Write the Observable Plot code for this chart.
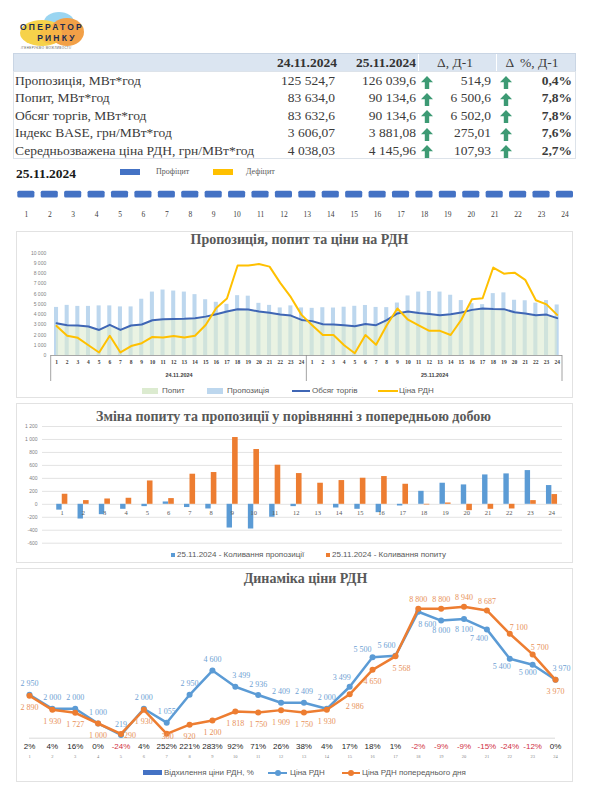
<!DOCTYPE html>
<html lang="uk">
<head>
<meta charset="utf-8">
<script src="https://cdn.jsdelivr.net/npm/d3@7"></script>
<script src="https://cdn.jsdelivr.net/npm/@observablehq/plot@0.6"></script>
<style>
html,body{margin:0;padding:0;background:#fff;}
#root{position:relative;width:592px;height:800px;overflow:hidden;font-family:"Liberation Serif","DejaVu Serif",serif;color:#3b3b3b;}
</style>
</head>
<body>
<div id="root"></div>
<script>
// ---------------- DATA ----------------
const hours = d3.range(1, 25);
const days = ["24.11.2024", "25.11.2024"];
const reportDate = "25.11.2024";

// summary table
const tableHeader = ["24.11.2024", "25.11.2024", "Δ, Д-1", "Δ  %, Д-1"];
const tableLabels = ["Пропозиція, МВт*год", "Попит, МВт*год", "Обсяг торгів, МВт*год", "Індекс BASE, грн/МВт*год", "Середньозважена ціна РДН, грн/МВт*год"];
const tablePrev = [125524.7, 83634.0, 83632.6, 3606.07, 4038.03];
const tableCur = [126039.6, 90134.6, 90134.6, 3881.08, 4145.96];
const tableDelta = [514.9, 6500.6, 6502.0, 275.01, 107.93];
const tablePct = [0.4, 7.8, 7.8, 7.6, 2.7];
const tableDecimals = [1, 1, 1, 2, 2];

// surplus / deficit strip
const balanceStatus = ["Профіцит","Профіцит","Профіцит","Профіцит","Профіцит","Профіцит","Профіцит","Профіцит","Профіцит","Профіцит","Профіцит","Профіцит","Профіцит","Профіцит","Профіцит","Профіцит","Профіцит","Профіцит","Профіцит","Профіцит","Профіцит","Профіцит","Профіцит","Профіцит"];
const balanceKinds = ["Профіцит", "Дефіцит"];

// chart 1: supply (bars), demand (area), trade volume, price
const supplyPrev = [4700,4900,4800,4800,4850,4850,4750,4750,5500,6200,6400,6300,6200,5950,5450,5200,5000,5850,5800,5100,4900,4650,4850,4650];
const supplyCur  = [4610,4670,4640,4720,4810,4890,4700,4680,5130,5820,6200,6260,6200,5890,5370,5070,4970,6050,6120,5400,5350,5120,5370,4940];
const demandPrev = [3160,2960,2930,2830,2500,3000,2500,2930,3030,3450,3550,3580,3600,3650,3800,4040,4300,4530,4500,4300,4170,4000,3900,3480];
const demandCur  = [3360,3060,3040,2960,2850,3070,2960,3450,4110,4310,4150,4060,3930,4030,4210,4460,4600,4540,4530,4220,4100,3930,4000,3650];
const tradePrev  = [3160,2960,2930,2830,2500,3000,2500,2930,3030,3450,3550,3580,3600,3650,3800,4040,4300,4530,4500,4300,4170,4000,3900,3480];
const tradeCur   = [3360,3060,3040,2960,2850,3070,2960,3450,4110,4310,4150,4060,3930,4030,4210,4460,4600,4540,4530,4220,4100,3930,4000,3650];
const pricePrev  = [2890,1930,1727,1000,290,1930,300,920,1200,1818,1750,1909,1750,1930,2986,4650,5568,8800,8800,8940,8687,7100,5700,3970];
const priceCur   = [2950,2000,2000,1000,219,2000,1055,2950,4600,3499,2936,2409,2409,2000,3499,5500,5600,8600,8000,8100,7400,5400,5000,3970];

// chart 2: change vs previous day
const supplyChange = [-90,-227,-160,-77,-36,36,-50,-72,-366,-381,-200,-36,0,-57,-77,-129,-26,200,325,299,453,469,520,289];
const demandChange = [155,57,82,93,360,88,464,490,1030,845,603,474,325,366,402,428,309,-10,20,-98,-77,-72,57,150];

// chart 3: price deviation, %
const priceDeviationPct = [2,4,16,0,-24,4,252,221,283,92,71,26,38,4,17,18,1,-2,-9,-9,-15,-24,-12,0];

// tick values
const ticks1 = d3.range(0, 10001, 1000);
const ticks2 = d3.range(-600, 1201, 200);

// ---------------- HELPERS ----------------
const root = document.getElementById("root");
function el(css, html) {
  const e = document.createElement("div");
  e.style.cssText = "position:absolute;" + css;
  if (html != null) e.innerHTML = html;
  root.appendChild(e);
  return e;
}
function txt(x, yc, text, css = "", anchor = "start") {
  const tx = anchor === "end" ? "-100%" : anchor === "middle" ? "-50%" : "0";
  const e = el(`left:${x}px;top:${yc}px;transform:translate(${tx},-50%);white-space:nowrap;line-height:1;${css}`);
  e.textContent = text;
  return e;
}
function place(svg, left, top) {
  svg.style.position = "absolute";
  svg.style.left = left + "px";
  svg.style.top = top + "px";
  svg.style.background = "transparent";
  svg.style.overflow = "visible";
  svg.style.maxWidth = "none";
  root.appendChild(svg);
}
const fmtInt = d => d3.format(",")(d).replace(/,/g, " ").replace("−", "-");
const uk = d3.formatLocale({decimal: ",", thousands: "\u00a0", grouping: [3], currency: ["", ""], minus: "-"});
const arrowSvg = `<svg width="12" height="13" viewBox="0 0 12 13"><path d="M6 0 L12 6.2 L8.2 6.2 L8.2 13 L3.8 13 L3.8 6.2 L0 6.2 Z" fill="#3d9a74"/></svg>`;

const C = {
  supply: "#bdd7ee", demand: "#dcebd0", trade: "#3f66b5", price: "#ffc000",
  blue: "#5b9bd5", orange: "#ed7d31", grid: "#e3e3e3", title: "#595959",
  surplus: "#4472c4", deficit: "#ffc000"
};
const sans = "Liberation Sans, Arial, sans-serif";
const serif = "Liberation Serif, Times New Roman, serif";

// ---------------- LOGO ----------------
el("left:44px;top:12px;width:30px;height:20px;border-radius:50%;background:#8fd0ef;opacity:0.9");
el("left:20px;top:20px;width:44px;height:26px;border-radius:50%;background:#f6d24a");
el("left:50px;top:18px;width:34px;height:28px;border-radius:50%;background:#f2a047");
el("left:40px;top:24px;width:22px;height:20px;border-radius:50%;background:#f7b845;opacity:0.8");
txt(52, 27, "ОПЕРАТОР", `font-family:${sans};font-weight:bold;font-size:8.5px;letter-spacing:2.2px;color:#1d2b4f`, "middle");
txt(57, 38, "РИНКУ", `font-family:${sans};font-weight:bold;font-size:8.5px;letter-spacing:2.2px;color:#1d2b4f`, "middle");
txt(21, 48, "/ГЕНЕРУЄМО МОЖЛИВОСТІ/", `font-family:${sans};font-size:3px;letter-spacing:0.4px;color:#555`);

// ---------------- TABLE ----------------
el("left:13px;top:53px;width:563px;height:19px;background:#dbe5f1;border:1px solid #c9d5e4;box-sizing:border-box");
el("left:418px;top:54px;width:1px;height:17px;background:#fff");
el("left:496px;top:54px;width:1px;height:17px;background:#fff");
el("left:13px;top:71px;width:563px;height:88px;border:1px solid #dde3ea;box-sizing:border-box");
const tfs = "font-size:13.5px;color:#3b3b3b;";
txt(337, 63, tableHeader[0], tfs + "font-weight:bold;color:#333", "end");
txt(416, 63, tableHeader[1], tfs + "font-weight:bold;color:#333", "end");
txt(455, 63, tableHeader[2], tfs, "middle");
txt(532, 63, tableHeader[3], tfs + "white-space:pre", "middle");
const rowY = [81, 98.3, 115.5, 133, 150.5];
tableLabels.forEach((lab, i) => {
  const f = uk.format(`,.${tableDecimals[i]}f`);
  txt(15, rowY[i], lab, tfs);
  txt(335, rowY[i], f(tablePrev[i]), tfs, "end");
  txt(416, rowY[i], f(tableCur[i]), tfs, "end");
  txt(491, rowY[i], f(tableDelta[i]), tfs, "end");
  txt(572, rowY[i], uk.format(",.1f")(tablePct[i]) + "%", tfs + "font-weight:bold", "end");
  el(`left:${421}px;top:${rowY[i] - 6.5}px;width:12px;height:13px`, tableDelta[i] >= 0 ? arrowSvg : "");
  el(`left:${500}px;top:${rowY[i] - 6.5}px;width:12px;height:13px`, tablePct[i] >= 0 ? arrowSvg : "");
});

// ---------------- STRIP ----------------
txt(16, 174, reportDate, `font-size:13.5px;font-weight:bold;color:#1a1a1a`);
el(`left:120px;top:169px;width:20px;height:6px;background:${C.surplus}`);
txt(156, 172, balanceKinds[0], `font-size:8px;color:#595959`);
el(`left:213px;top:169px;width:20px;height:6px;background:${C.deficit}`);
txt(246, 172, balanceKinds[1], `font-size:8px;color:#595959`);

const strip = hours.map((h, i) => ({hour: h, status: balanceStatus[i]}));
const pStrip = Plot.plot({
  width: 560, height: 40, marginLeft: 0, marginRight: 0, marginTop: 5.7, marginBottom: 27.5,
  x: {domain: hours, range: [2.3, 558], paddingInner: 0.27, paddingOuter: 0, round: false, axis: null},
  color: {domain: balanceKinds, range: [C.surplus, C.deficit]},
  marks: [
    Plot.cell(strip, {x: "hour", fill: "status", rx: 1.5}),
    Plot.text(strip, {x: "hour", text: "hour", frameAnchor: "bottom", dy: 19.2, fontSize: 7.5, fontFamily: serif, fill: "#404040"})
  ]
});
place(pStrip, 15, 185);

// ---------------- CHART 1 ----------------
el("left:16px;top:231px;width:557px;height:167px;border:1px solid #e2e2e2;box-sizing:border-box");
txt(299.5, 240, "Пропозиція, попит та ціни на РДН", `font-size:14px;font-weight:bold;color:${C.title}`, "middle");

const c1 = [];
days.forEach((d, di) => hours.forEach((h, hi) => c1.push({
  key: `${di}-${h}`, day: d, hour: h,
  supply: [supplyPrev, supplyCur][di][hi],
  demand: [demandPrev, demandCur][di][hi],
  trade: [tradePrev, tradeCur][di][hi],
  price: [pricePrev, priceCur][di][hi]
})));
const W1 = 558, ML1 = 35.7, MR1 = 11, H1 = 168, MB1 = 43;
const step1 = (W1 - ML1 - MR1) / c1.length;
const p1 = Plot.plot({
  width: W1, height: H1, marginLeft: ML1, marginRight: MR1, marginTop: 22.7, marginBottom: MB1,
  style: {fontFamily: sans, fontSize: "5px", color: "#7f7f7f", background: "transparent"},
  x: {domain: c1.map(d => d.key), padding: 0, round: false, axis: null},
  y: {domain: [0, 10000], ticks: ticks1, tickFormat: fmtInt, tickSize: 0, tickPadding: 5, label: null},
  marks: [
    Plot.barY(c1, {x: "key", y: "supply", fill: C.supply, insetLeft: 3.3, insetRight: 3.3}),
    Plot.areaY(c1, {x: "key", y: "demand", fill: C.demand, fillOpacity: 0.6}),
    Plot.ruleY([0], {stroke: "#a6a6a6"}),
    Plot.lineY(c1, {x: "key", y: "trade", stroke: C.trade, strokeWidth: 2}),
    Plot.lineY(c1, {x: "key", y: "price", stroke: C.price, strokeWidth: 2}),
    Plot.text(c1, {x: "key", text: "hour", frameAnchor: "bottom", dy: 8, fontSize: 5.5, fontFamily: serif, fontWeight: "bold", fill: "#404040"}),
    Plot.text(c1.filter(d => d.hour === 12), {x: "key", text: "day", frameAnchor: "bottom", dy: 21, dx: step1 / 2, fontSize: 5.5, fontFamily: sans, fontWeight: "bold", fill: "#404040"})
  ]
});
const s1 = d3.select(p1);
[0, 24, 48].forEach(k => s1.append("line")
  .attr("x1", ML1 + k * step1).attr("x2", ML1 + k * step1)
  .attr("y1", H1 - MB1).attr("y2", H1 - MB1 + 26)
  .attr("stroke", "#8c8c8c").attr("stroke-width", 0.8));
place(p1, 15, 230);

// chart 1 legend
const lg = `font-family:${sans};font-size:8px;color:#595959`;
el(`left:142px;top:388px;width:16px;height:6px;background:${C.demand}`);
txt(162, 391, "Попит", lg);
el(`left:207px;top:388px;width:16px;height:6px;background:${C.supply}`);
txt(227, 391, "Пропозиція", lg);
el(`left:292px;top:390px;width:18px;height:2px;background:${C.trade}`);
txt(312, 391, "Обсяг торгів", lg);
el(`left:378px;top:390px;width:20px;height:2px;background:${C.price}`);
txt(399, 391, "Ціна РДН", lg);

// ---------------- CHART 2 ----------------
el("left:16px;top:403px;width:557px;height:160px;border:1px solid #e2e2e2;box-sizing:border-box");
txt(293.5, 417, "Зміна попиту та пропозиції у порівнянні з попередньою добою", `font-size:14px;font-weight:bold;color:${C.title}`, "middle");

const c2 = hours.map((h, i) => ({hour: h, supplyChange: supplyChange[i], demandChange: demandChange[i]}));
const XR2 = [36, 547];
const bw2 = (XR2[1] - XR2[0]) / hours.length;
const p2 = Plot.plot({
  width: 558, height: 159, marginLeft: 27, marginRight: 11, marginTop: 23, marginBottom: 19.3,
  style: {fontFamily: sans, fontSize: "5px", color: "#7f7f7f", background: "transparent"},
  x: {domain: hours, range: XR2, padding: 0, round: false, axis: null},
  y: {domain: [-600, 1200], ticks: ticks2, tickFormat: fmtInt, tickSize: 0, tickPadding: 5, label: null},
  marks: [
    Plot.ruleY(ticks2, {stroke: C.grid}),
    Plot.barY(c2, {x: "hour", y: "supplyChange", fill: C.blue, insetLeft: bw2 / 2 - 5.4, insetRight: bw2 / 2}),
    Plot.barY(c2, {x: "hour", y: "demandChange", fill: C.orange, insetLeft: bw2 / 2 + 0.1, insetRight: bw2 / 2 - 5.7}),
    Plot.text(c2, {x: "hour", y: () => 0, text: "hour", dy: 9, fontSize: 6.5, fontFamily: serif, fill: "#595959"})
  ]
});
place(p2, 15, 403);

el(`left:171px;top:553px;width:4px;height:4px;background:${C.blue}`);
txt(177, 555, "25.11.2024 - Коливання пропозиції", lg);
el(`left:326px;top:553px;width:4px;height:4px;background:${C.orange}`);
txt(332, 555, "25.11.2024 - Коливання попиту", lg);

// ---------------- CHART 3 ----------------
el("left:16px;top:568px;width:557px;height:214px;border:1px solid #e2e2e2;box-sizing:border-box");
txt(305.5, 579, "Динаміка ціни РДН", `font-size:14px;font-weight:bold;color:${C.title}`, "middle");

const c3 = hours.map((h, i) => ({hour: h, cur: priceCur[i], prev: pricePrev[i], pct: priceDeviationPct[i]}));
// label placement (style): [dx, dy] per hour
const curLabelPos = h => h === 15 ? [-8, -9] : h === 16 ? [-10, -8] : h === 17 ? [-9, -10] : h === 18 ? [9, 13]
  : (h === 19 || h === 20) ? [0, 10] : h === 21 ? [-8, 9] : h === 22 ? [-8, 8] : h === 23 ? [-5, 8] : h === 24 ? [6, -11]
  : h === 10 ? [6, -11] : [0, -11];
const prevLabelPos = h => h === 5 ? [9, 2] : h === 7 ? [1, 3] : h === 15 ? [5, 12] : h === 17 ? [6, 12]
  : (h >= 18 && h <= 21) ? [0, -9] : h === 22 ? [9, -6] : h === 23 ? [7, -7] : [0, 12];

const labelMarks = [];
c3.forEach(d => {
  const [dx1, dy1] = curLabelPos(d.hour);
  labelMarks.push(Plot.text([d], {x: "hour", y: "cur", text: e => fmtInt(e.cur), dx: dx1, dy: dy1, fontSize: 8, fontFamily: serif, fill: "#6f9fd4"}));
  const [dx2, dy2] = prevLabelPos(d.hour);
  labelMarks.push(Plot.text([d], {x: "hour", y: "prev", text: e => fmtInt(e.prev), dx: dx2, dy: dy2, fontSize: 8, fontFamily: serif, fill: "#e8925a"}));
});

const p3 = Plot.plot({
  width: 558, height: 221, marginLeft: 14, marginRight: 18, marginTop: 41.3, marginBottom: 50.3,
  style: {fontFamily: sans, fontSize: "8px", background: "transparent"},
  x: {domain: [1, 24], axis: null},
  y: {domain: [0, 8800], axis: null},
  marks: [
    Plot.ruleY([0], {stroke: "#d9d9d9"}),
    Plot.lineY(c3, {x: "hour", y: "cur", stroke: C.blue, strokeWidth: 2.5}),
    Plot.dot(c3, {x: "hour", y: "cur", r: 3, fill: C.blue}),
    Plot.lineY(c3, {x: "hour", y: "prev", stroke: C.orange, strokeWidth: 2.5}),
    Plot.dot(c3, {x: "hour", y: "prev", r: 3, fill: C.orange}),
    ...labelMarks,
    Plot.text(c3.filter(d => d.pct >= 0), {x: "hour", text: d => d.pct + "%", frameAnchor: "bottom", dy: 11, fontSize: 8, fontFamily: sans, fill: "#262626"}),
    Plot.text(c3.filter(d => d.pct < 0), {x: "hour", text: d => d.pct + "%", frameAnchor: "bottom", dy: 11, fontSize: 8, fontFamily: sans, fill: "#d0303f"}),
    Plot.text(c3, {x: "hour", text: "hour", frameAnchor: "bottom", dy: 19.8, fontSize: 4.5, fontFamily: serif, fill: "#7f7f7f"})
  ]
});
place(p3, 15, 567);

el(`left:143px;top:770px;width:19px;height:5px;background:#4472c4`);
txt(164, 772.7, "Відхилення ціни РДН, %", lg);
el(`left:268px;top:771.5px;width:19px;height:2.5px;background:${C.blue}`);
el(`left:274.5px;top:769.7px;width:6px;height:6px;border-radius:50%;background:${C.blue}`);
txt(290, 772.7, "Ціна РДН", lg);
el(`left:342px;top:771.5px;width:18px;height:2.5px;background:${C.orange}`);
el(`left:348px;top:769.7px;width:6px;height:6px;border-radius:50%;background:${C.orange}`);
txt(362, 772.7, "Ціна РДН попереднього дня", lg);
</script>
</body>
</html>
